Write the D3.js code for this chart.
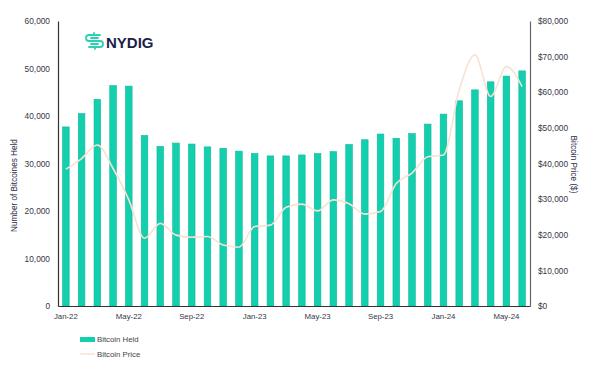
<!DOCTYPE html>
<html>
<head>
<meta charset="utf-8">
<script src="https://cdn.jsdelivr.net/npm/d3@7"></script>
<style>
  html, body { margin: 0; padding: 0; background: #ffffff; }
  svg { display: block; font-family: "Liberation Sans", Arial, sans-serif; }
</style>
</head>
<body>
<svg id="chart" width="600" height="372"></svg>
<script>
const months = ["Jan-22","Feb-22","Mar-22","Apr-22","May-22","Jun-22","Jul-22","Aug-22","Sep-22","Oct-22","Nov-22","Dec-22",
  "Jan-23","Feb-23","Mar-23","Apr-23","May-23","Jun-23","Jul-23","Aug-23","Sep-23","Oct-23","Nov-23","Dec-23",
  "Jan-24","Feb-24","Mar-24","Apr-24","May-24","Jun-24"];
const bitcoinHeld = [37700, 40500, 43500, 46400, 46300, 35900, 33600, 34300, 34100, 33500, 33200, 32600,
  32100, 31600, 31600, 31800, 32100, 32500, 34000, 35000, 36200, 35300, 36300, 38300,
  40400, 43200, 45500, 47200, 48400, 49500];
const bitcoinPrice = [38400, 41400, 45200, 38600, 29800, 19000, 23200, 19900, 19300, 19500, 17100, 16500,
  22300, 22700, 27700, 28600, 26700, 29800, 28700, 25800, 26500, 34400, 37300, 41900,
  42400, 60600, 70500, 58800, 67200, 61600];
const leftTicks = [0, 10000, 20000, 30000, 40000, 50000, 60000];
const rightTicks = [0, 10000, 20000, 30000, 40000, 50000, 60000, 70000, 80000];
const xTickLabels = ["Jan-22","May-22","Sep-22","Jan-23","May-23","Sep-23","Jan-24","May-24"];
const legendLabels = ["Bitcoin Held", "Bitcoin Price"];

const svg = d3.select("#chart");
const mLeft = 58, mRight = 530, mTop = 21, mBottom = 306;

const x = d3.scaleBand().domain(months).range([mLeft, mRight]).paddingInner(0.58).paddingOuter(0.29);
const yL = d3.scaleLinear().domain([0, 60000]).range([mBottom, mTop]);
const yR = d3.scaleLinear().domain([0, 80000]).range([mBottom, mTop]);

const teal = "#13cfae";
const tealEdge = "#0fb99b";
const lineColor = "#f7e2d4";
const textColor = "#363646";

// bars
svg.append("g").selectAll("rect").data(months).join("rect")
  .attr("x", d => x(d))
  .attr("y", (d, i) => yL(bitcoinHeld[i]))
  .attr("width", x.bandwidth())
  .attr("height", (d, i) => yL(0) - yL(bitcoinHeld[i]))
  .attr("fill", teal)
  .attr("stroke", tealEdge)
  .attr("stroke-width", 0.6);

// price line
const line = d3.line()
  .x((d, i) => x(months[i]) + x.bandwidth() / 2)
  .y(d => yR(d))
  .curve(d3.curveMonotoneX);
svg.append("path").datum(bitcoinPrice)
  .attr("d", line)
  .attr("fill", "none")
  .attr("stroke", lineColor)
  .attr("stroke-width", 1.6);

// left axis
const axL = svg.append("g").attr("transform", `translate(${mLeft},0)`)
  .call(d3.axisLeft(yL).tickValues(leftTicks).tickSize(0).tickPadding(8).tickFormat(d3.format(",")));
axL.select(".domain").attr("stroke", "#333").attr("stroke-width", 1.2);
axL.selectAll("text").attr("font-size", 8.3).attr("fill", textColor).attr("font-family", "Liberation Sans, Arial, sans-serif");

// right axis
const axR = svg.append("g").attr("transform", `translate(${mRight},0)`)
  .call(d3.axisRight(yR).tickValues(rightTicks).tickSize(0).tickPadding(8).tickFormat(d => "$" + d3.format(",")(d)));
axR.select(".domain").attr("stroke", "#666").attr("stroke-width", 1.2);
axR.selectAll("text").attr("font-size", 8.3).attr("fill", textColor).attr("font-family", "Liberation Sans, Arial, sans-serif");

// bottom axis
const axB = svg.append("g").attr("transform", `translate(0,${mBottom})`)
  .call(d3.axisBottom(x).tickValues(xTickLabels).tickSize(0).tickPadding(7));
axB.select(".domain").attr("stroke", "#333").attr("stroke-width", 1.2);
axB.selectAll("text").attr("font-size", 7.8).attr("fill", textColor).attr("font-family", "Liberation Sans, Arial, sans-serif");

// axis titles
svg.append("text")
  .attr("transform", `translate(17,${(mTop + mBottom) / 2 + 22}) rotate(-90)`)
  .attr("text-anchor", "middle")
  .attr("font-size", 8.2).attr("fill", "#2c2c4a")
  .text("Number of Bitcoines Held");
svg.append("text")
  .attr("transform", `translate(571,${(mTop + mBottom) / 2 + 1}) rotate(90)`)
  .attr("text-anchor", "middle")
  .attr("font-size", 8.2).attr("fill", "#2c2c4a")
  .text("Bitcoin Price ($)");

// legend
const lg = svg.append("g");
lg.append("rect").attr("x", 80).attr("y", 337).attr("width", 15).attr("height", 5).attr("fill", teal);
lg.append("text").attr("x", 97).attr("y", 342).attr("font-size", 7.8).attr("fill", "#444").text(legendLabels[0]);
lg.append("line").attr("x1", 80).attr("x2", 95).attr("y1", 354).attr("y2", 354).attr("stroke", lineColor).attr("stroke-width", 1.5);
lg.append("text").attr("x", 97).attr("y", 357).attr("font-size", 7.8).attr("fill", "#444").text(legendLabels[1]);

// logo
const logo = svg.append("g").attr("transform", "translate(86,33)");
const lc = "#2ad1b2";
logo.append("path").attr("d", "M3,2 H14 M3,2 Q0,2 0,5 Q0,8 3,8 M14,8 Q17,8 17,11 Q17,14 14,14 H3 M3,8 H14 M5,5 H12 M5,11 H12 M8,0 V2 M9,14 V16")
  .attr("fill", "none").attr("stroke", lc).attr("stroke-width", 1.8).attr("stroke-linecap", "round");
svg.append("text").attr("x", 106).attr("y", 47.5).attr("font-size", 15).attr("font-weight", "bold")
  .attr("fill", "#1b1f4a").attr("font-family", "Liberation Sans, Arial, sans-serif").text("NYDIG");
</script>
</body>
</html>
